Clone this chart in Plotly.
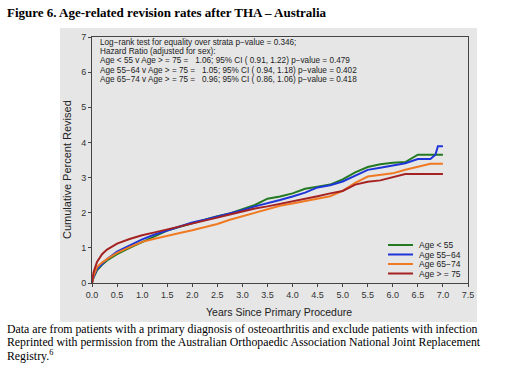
import plotly.graph_objects as go

# ---- data ----
years = [0, 0.03, 0.1, 0.2, 0.3, 0.5, 0.75, 1.0,
         1.25, 1.5, 1.75, 2.0, 2.25, 2.5, 2.75, 3.0,
         3.25, 3.5, 3.75, 4.0, 4.25, 4.5, 4.75, 5.0,
         5.25, 5.5, 5.75, 6.0, 6.25, 6.5,
         6.75, 6.85, 6.9, 7.0]

age_lt55 = [0, 0.15, 0.36, 0.52, 0.64, 0.82, 1.00, 1.17,
            1.33, 1.49, 1.60, 1.70, 1.82, 1.90, 1.98, 2.10,
            2.22, 2.40, 2.46, 2.55, 2.68, 2.74, 2.80, 2.95,
            3.15, 3.30, 3.38, 3.42, 3.44, 3.65,
            3.65, 3.65, 3.65, 3.65]

age_55_64 = [0, 0.17, 0.40, 0.55, 0.68, 0.89, 1.07, 1.24,
             1.38, 1.50, 1.62, 1.72, 1.80, 1.89, 1.97, 2.07,
             2.18, 2.26, 2.36, 2.46, 2.57, 2.72, 2.78, 2.89,
             3.05, 3.22, 3.28, 3.34, 3.41, 3.53,
             3.53, 3.65, 3.89, 3.89]

age_65_74 = [0, 0.20, 0.45, 0.58, 0.68, 0.86, 1.02, 1.17,
             1.26, 1.33, 1.42, 1.50, 1.58, 1.68, 1.80, 1.90,
             2.02, 2.12, 2.20, 2.26, 2.33, 2.40, 2.47, 2.62,
             2.85, 3.03, 3.08, 3.12, 3.22, 3.31,
             3.39, 3.39, 3.39, 3.39]

age_ge75 = [0, 0.30, 0.60, 0.82, 0.95, 1.12, 1.25, 1.36,
            1.44, 1.52, 1.60, 1.70, 1.78, 1.86, 1.95, 2.04,
            2.12, 2.18, 2.25, 2.31, 2.38, 2.47, 2.55, 2.62,
            2.80, 2.88, 2.92, 3.00, 3.10, 3.10,
            3.10, 3.10, 3.10, 3.10]

series_names = ["Age < 55", "Age 55\u221264", "Age 65\u221274", "Age > = 75"]
series_values = [age_lt55, age_55_64, age_65_74, age_ge75]
series_colors = ["#237a23", "#1f35d8", "#f07a22", "#a52222"]

x_ticks = [0.0, 0.5, 1.0, 1.5, 2.0, 2.5, 3.0, 3.5, 4.0, 4.5, 5.0, 5.5, 6.0, 6.5, 7.0, 7.5]
y_ticks = [0, 1, 2, 3, 4, 5, 6, 7]

stats_lines = [
    "Log\u2212rank test for equality over strata p\u2212value = 0.346;",
    "Hazard Ratio (adjusted for sex):",
    "Age < 55 v Age > = 75 =   1.06; 95% CI ( 0.91, 1.22) p\u2212value = 0.479",
    "Age 55\u221264 v Age > = 75 =   1.05; 95% CI ( 0.94, 1.18) p\u2212value = 0.402",
    "Age 65\u221274 v Age > = 75 =   0.96; 95% CI ( 0.86, 1.06) p\u2212value = 0.418",
]

title_text = "<b>Figure 6. Age-related revision rates after THA \u2013 Australia</b>"
caption_lines = [
    "Data are from patients with a primary diagnosis of osteoarthritis and exclude patients with infection",
    "Reprinted with permission from the Australian Orthopaedic Association National Joint Replacement",
    "Registry.<sup>6</sup>",
]

# ---- geometry helpers (pixel -> paper) ----
W, H = 514, 372
ML, MR, MT, MB = 92, 46, 37, 89
PW, PH = W - ML - MR, H - MT - MB


def px(x):
    return (x - ML) / PW


def py(y):
    return (H - MB - y) / PH


fig = go.Figure()
for name, vals, col in zip(series_names, series_values, series_colors):
    fig.add_trace(go.Scatter(x=years, y=vals, mode="lines", name=name,
                             line=dict(color=col, width=2), showlegend=False))

sans = "Liberation Sans, Arial, sans-serif"
serif = "Liberation Serif, Times New Roman, serif"
gray_bg = "#e6e6e6"

shapes = [dict(type="rect", xref="paper", yref="paper", layer="below",
               x0=px(60), x1=px(477), y0=py(322), y1=py(28),
               fillcolor=gray_bg, line=dict(width=0))]

annotations = []
annotations.append(dict(text=title_text, xref="paper", yref="paper", x=px(5), y=py(13),
                        xanchor="left", yanchor="middle", showarrow=False,
                        font=dict(family=serif, size=13, color="black")))
for i, line in enumerate(caption_lines):
    annotations.append(dict(text=line, xref="paper", yref="paper", x=px(5), y=py(329 + 13 * i),
                            xanchor="left", yanchor="middle", showarrow=False,
                            font=dict(family=serif, size=11.8, color="black")))
for i, line in enumerate(stats_lines):
    annotations.append(dict(text=line, xref="paper", yref="paper", x=px(98), y=py(42.5 + 9.2 * i),
                            xanchor="left", yanchor="middle", showarrow=False,
                            font=dict(family=sans, size=8.2, color="#222")))
# axis titles
annotations.append(dict(text="Cumulative Percent Revised", xref="paper", yref="paper",
                        x=px(67), y=py(170), textangle=-90, showarrow=False,
                        xanchor="center", yanchor="middle",
                        font=dict(family=sans, size=11, color="#222")))
annotations.append(dict(text="Years Since Primary Procedure", xref="paper", yref="paper",
                        x=px(279), y=py(312), showarrow=False,
                        xanchor="center", yanchor="middle",
                        font=dict(family=sans, size=10.5, color="#222")))
# manual legend
leg_y = [245, 254.5, 264, 273.5]
for name, col, yy in zip(series_names, series_colors, leg_y):
    shapes.append(dict(type="line", xref="paper", yref="paper",
                       x0=px(388), x1=px(413), y0=py(yy), y1=py(yy),
                       line=dict(color=col, width=2)))
    annotations.append(dict(text=name, xref="paper", yref="paper", x=px(417), y=py(yy),
                            xanchor="left", yanchor="middle", showarrow=False,
                            font=dict(family=sans, size=8.5, color="#222")))

fig.update_layout(
    width=W, height=H,
    margin=dict(l=ML, r=MR, t=MT, b=MB, pad=0),
    paper_bgcolor="white", plot_bgcolor=gray_bg,
    shapes=shapes, annotations=annotations,
    showlegend=False,
)
fig.update_xaxes(range=[0, 7.5], tickvals=x_ticks,
                 ticktext=[f"{v:.1f}" for v in x_ticks],
                 showgrid=False, zeroline=False, showline=True, mirror=True,
                 linecolor="#444", linewidth=1, ticks="outside", ticklen=3,
                 tickcolor="#444", tickfont=dict(family=sans, size=9, color="#333"))
fig.update_yaxes(range=[0, 7], tickvals=y_ticks,
                 showgrid=False, zeroline=False, showline=True, mirror=True,
                 linecolor="#444", linewidth=1, ticks="outside", ticklen=3,
                 tickcolor="#444", tickfont=dict(family=sans, size=9, color="#333"))

fig.write_html("out.html", config={"displayModeBar": False},
               post_script="document.body.style.margin='0';document.body.style.overflow='hidden';")
